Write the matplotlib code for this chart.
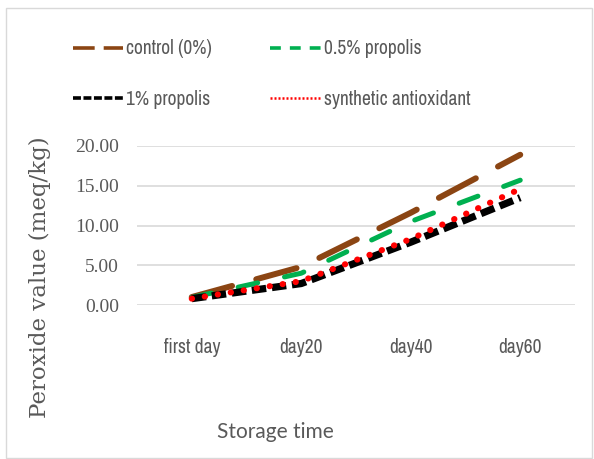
import matplotlib
matplotlib.use('Agg')
import matplotlib.pyplot as plt
from matplotlib import font_manager
from matplotlib.lines import Line2D
from matplotlib.patches import Rectangle

categories = ['first day', 'day20', 'day40', 'day60']
control = [1.0, 4.8, 11.6, 18.9]
propolis_05 = [0.95, 4.0, 10.5, 15.7]
propolis_1 = [0.8, 2.7, 7.9, 13.5]
synthetic = [0.8, 3.0, 8.3, 14.6]
labels = ['control (0%)', '0.5% propolis', '1% propolis', 'synthetic antioxidant']

names = {f.name for f in font_manager.fontManager.ttflist}
narrow = 'Archivo Narrow' if 'Archivo Narrow' in names else 'Lato'
GRAY = '#595959'

fig = plt.figure(figsize=(5.94, 4.59), dpi=100)
fig.patches.append(Rectangle((6 / 594, 0.002), 586 / 594, 1 - 8 / 459 - 0.002,
                             transform=fig.transFigure, fill=False,
                             edgecolor='#D9D9D9', linewidth=1))
ax = fig.add_axes([137 / 594, 1 - 305 / 459, 438 / 594, 159 / 459])

x = range(len(categories))
ax.plot(x, control, color='#8B4513', lw=4.3, dashes=(7.0, 4.2),
        dash_capstyle='round', solid_capstyle='round')
ax.plot(x, propolis_05, color='#00B050', lw=3.6, dashes=(4.0, 5.5),
        dash_capstyle='round')
ax.plot(x, propolis_1, color='black', lw=5.2, dashes=(2.0, 0.8),
        dash_capstyle='butt')
ax.plot(x, synthetic, color='#FF0000', lw=4.4, dashes=(0.05, 2.1),
        dash_capstyle='round')

ax.set_xlim(-0.5, 3.5)
ax.set_ylim(0, 20)
ax.set_yticks([0, 5, 10, 15, 20])
ax.set_yticklabels([f'{v:.2f}' for v in [0, 5, 10, 15, 20]],
                   family='Liberation Serif', fontsize=14, color=GRAY)
ax.set_xticks(list(x))
ax.set_xticklabels(categories, family=narrow, fontsize=14, color=GRAY)
ax.tick_params(axis='y', length=0, pad=13)
ax.tick_params(axis='x', length=0, pad=24)
ax.grid(axis='y', color='#D9D9D9', lw=1.2)
ax.set_axisbelow(True)
for s in ax.spines.values():
    s.set_visible(False)

fig.text(40 / 594, 1 - 277 / 459, 'Peroxide value (meq/kg)', rotation=90,
         ha='center', va='center', family='DejaVu Serif', fontsize=16.5,
         color=GRAY)
fig.text(275 / 594, 1 - 432 / 459, 'Storage time', ha='center', va='center',
         family='Lato', fontsize=15, color=GRAY)

# legend handles drawn thinner, like the Excel legend
h_control = Line2D([], [], color='#8B4513', lw=2.6, dashes=(6, 2.5))
h_05 = Line2D([], [], color='#00B050', lw=2.6, dashes=(3, 2.5))
h_1 = Line2D([], [], color='black', lw=2.6, dashes=(2.2, 0.7))
h_syn = Line2D([], [], color='#FF0000', lw=1.8, dashes=(0.8, 0.8))
leg = fig.legend([h_control, h_1, h_05, h_syn],
                 [labels[0], labels[2], labels[1], labels[3]],
                 ncol=2, loc='upper left', bbox_to_anchor=(55 / 594, 1 - 22 / 459),
                 frameon=False, prop={'family': narrow, 'size': 14},
                 handlelength=2.6, handletextpad=0.15, columnspacing=3.0,
                 labelspacing=1.6)
for t in leg.get_texts():
    t.set_color(GRAY)

fig.savefig('out.png', dpi=100)
